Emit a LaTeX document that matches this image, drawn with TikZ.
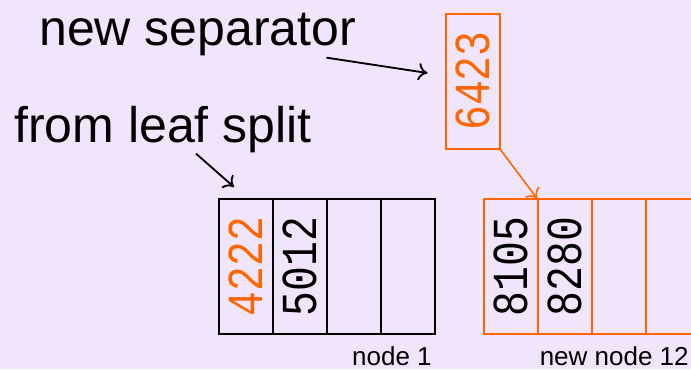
\documentclass[tikz,border=0pt]{standalone}
\usepackage{fontspec}
\setmainfont{Liberation Sans}
\newfontfamily\digitfont{Liberation Mono}
\usetikzlibrary{arrows.meta,calc,positioning}
\definecolor{lav}{HTML}{F1E5FC}
\definecolor{orange}{HTML}{FF6600}
\newcommand{\vkey}[1]{\rotatebox{90}{\scalebox{0.97}[1.18]{#1}}}

\begin{document}
\begin{tikzpicture}[x=0.75pt,y=-0.75pt,>={To[length=7pt,width=13pt]},
  cell/.style={draw,line width=1.5pt,outer sep=0pt,inner sep=0pt,
    minimum width=40.5pt,minimum height=101.25pt,
    font=\digitfont\fontsize{32}{32}\selectfont},
  big/.style={font=\fontsize{37.5}{40}\selectfont,inner sep=0pt},
  small/.style={font=\fontsize{19.5}{22}\selectfont,inner sep=0pt}]
\fill[lav] (0,0) rectangle (691,369);
\useasboundingbox (0,0) rectangle (691,369);
\clip (0,0) rectangle (691,369);

% separator pushed up from the split
\node[cell,draw=orange,text=orange] (sep) at (472.5,81) {\vkey{6423}};

% old leaf
\node[cell] (a1) at (246,266.5) {\textcolor{orange}{\vkey{4222}}};
\node[cell,right=0pt of a1] (a2) {\vkey{5012}};
\node[cell,right=0pt of a2] (a3) {};
\node[cell,right=0pt of a3] (a4) {};

% new leaf
\node[cell,draw=orange] (b1) at (510.5,266.5) {\vkey{8105}};
\node[cell,draw=orange,right=0pt of b1] (b2) {\vkey{8280}};
\node[cell,draw=orange,right=0pt of b2] (b3) {};
\node[cell,draw=orange,right=0pt of b3] (b4) {};

\node[small,anchor=base east] (lbla) at ($(a4.south east)+(-3,31)$) {node 1};
\node[small,anchor=base west] (lblb) at ($(b2.south west)+(2,31)$) {new node 12};

\node[big,anchor=base west] (newsep) at (39,45) {new separator};
\node[big,anchor=base west] (leaf) at (14,142) {from leaf split};

\draw[->,line width=1.4pt] ($(newsep.south east)+(-30,2)$) -- ($(sep.west)+(-18,-8)$);
\draw[->,line width=1.4pt] ($(leaf.south west)+(182,1)$) -- ($(a1.north west)+(15,-12)$);
\draw[->,orange,line width=1.2pt] (sep.south east) -- (b1.north east);
\end{tikzpicture}
\end{document}
